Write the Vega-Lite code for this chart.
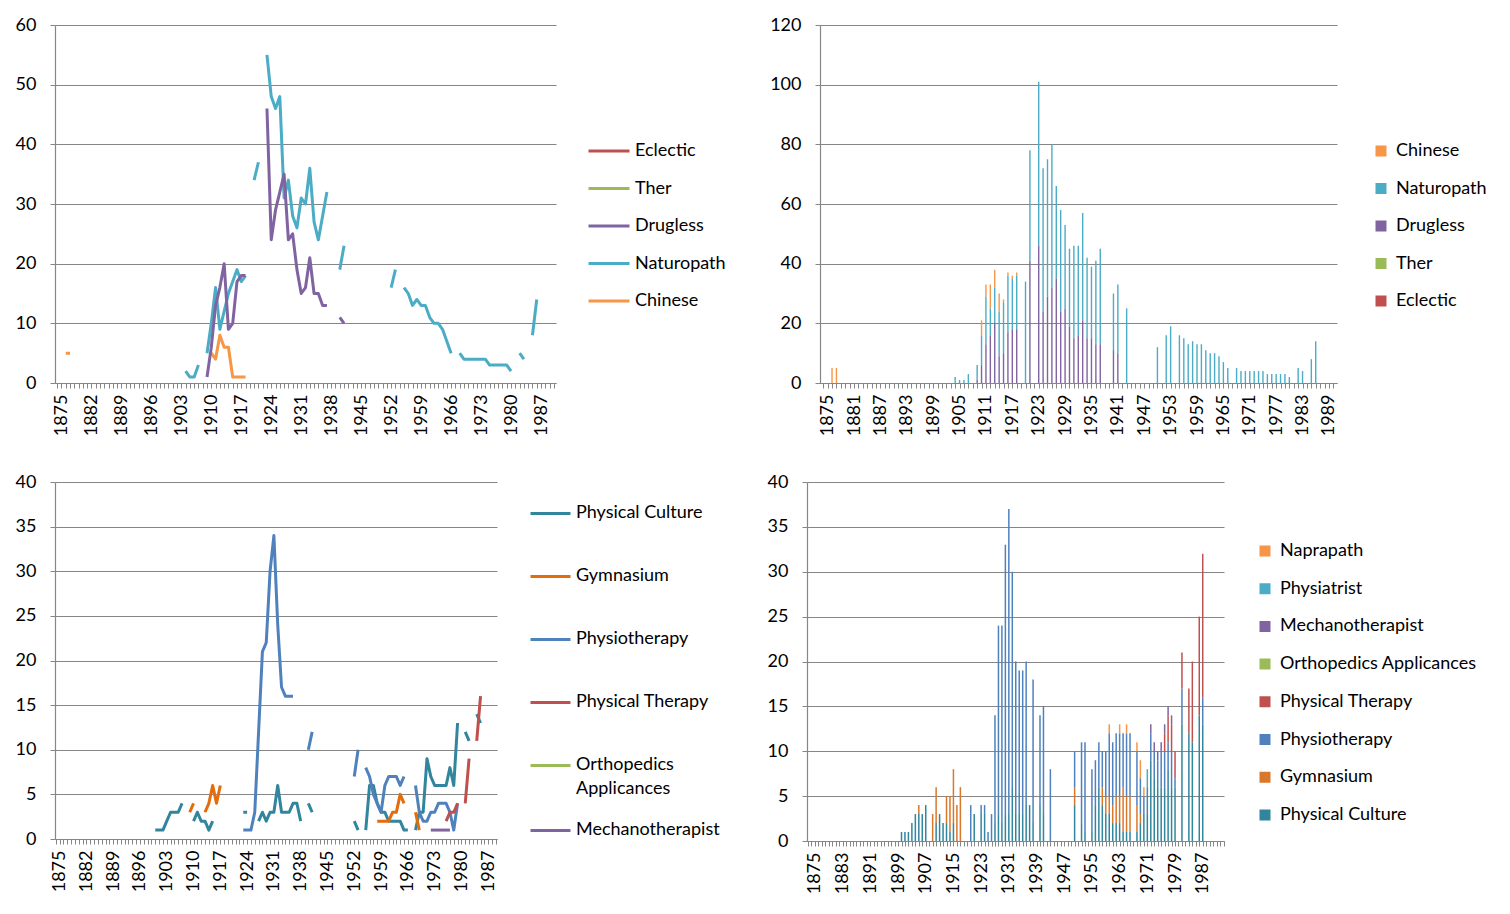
{
  "$schema": "https://vega.github.io/schema/vega-lite/v6.json",
  "background": "white",
  "padding": {"left": 15, "top": 16, "right": 5, "bottom": 5},
  "bounds": "flush",
  "spacing": 457,
  "config": {
    "font": "Lato",
    "view": {"stroke": null},
    "axis": {"labelFont": "Lato", "labelFontSize": 18, "labelColor": "#000000", "domainColor": "#868686", "tickColor": "#868686", "gridColor": "#868686", "gridWidth": 1.2, "domainWidth": 1.2, "tickWidth": 1},
    "legend": {"labelFont": "Lato", "labelFontSize": 18, "labelColor": "#000000", "labelLimit": 400}
  },
  "datasets": {
    "a": [
      {"year":1876,"series":"Chinese","n":5},{"year":1877,"series":"Chinese","n":5},{"year":1878,"series":"Chinese","n":null},
      {"year":1910,"series":"Chinese","n":5},{"year":1911,"series":"Chinese","n":4},{"year":1912,"series":"Chinese","n":8},{"year":1913,"series":"Chinese","n":6},{"year":1914,"series":"Chinese","n":6},{"year":1915,"series":"Chinese","n":1},{"year":1916,"series":"Chinese","n":1},{"year":1917,"series":"Chinese","n":1},{"year":1918,"series":"Chinese","n":1},
      {"year":1904,"series":"Naturopath","n":2},{"year":1905,"series":"Naturopath","n":1},{"year":1906,"series":"Naturopath","n":1},{"year":1907,"series":"Naturopath","n":3},{"year":1908,"series":"Naturopath","n":null},
      {"year":1909,"series":"Naturopath","n":5},{"year":1910,"series":"Naturopath","n":10},{"year":1911,"series":"Naturopath","n":16},{"year":1912,"series":"Naturopath","n":9},{"year":1913,"series":"Naturopath","n":12},{"year":1914,"series":"Naturopath","n":15},{"year":1915,"series":"Naturopath","n":17},{"year":1916,"series":"Naturopath","n":19},{"year":1917,"series":"Naturopath","n":17},{"year":1918,"series":"Naturopath","n":18},{"year":1919,"series":"Naturopath","n":null},
      {"year":1920,"series":"Naturopath","n":34},{"year":1921,"series":"Naturopath","n":37},{"year":1922,"series":"Naturopath","n":null},
      {"year":1923,"series":"Naturopath","n":55},{"year":1924,"series":"Naturopath","n":48},{"year":1925,"series":"Naturopath","n":46},{"year":1926,"series":"Naturopath","n":48},{"year":1927,"series":"Naturopath","n":31},{"year":1928,"series":"Naturopath","n":34},{"year":1929,"series":"Naturopath","n":28},{"year":1930,"series":"Naturopath","n":26},{"year":1931,"series":"Naturopath","n":31},{"year":1932,"series":"Naturopath","n":30},{"year":1933,"series":"Naturopath","n":36},{"year":1934,"series":"Naturopath","n":27},{"year":1935,"series":"Naturopath","n":24},{"year":1936,"series":"Naturopath","n":28},{"year":1937,"series":"Naturopath","n":32},{"year":1938,"series":"Naturopath","n":null},
      {"year":1940,"series":"Naturopath","n":19},{"year":1941,"series":"Naturopath","n":23},{"year":1942,"series":"Naturopath","n":null},{"year":1943,"series":"Naturopath","n":25},{"year":1944,"series":"Naturopath","n":null},
      {"year":1950,"series":"Naturopath","n":12},{"year":1951,"series":"Naturopath","n":null},{"year":1952,"series":"Naturopath","n":16},{"year":1953,"series":"Naturopath","n":19},{"year":1954,"series":"Naturopath","n":null},
      {"year":1955,"series":"Naturopath","n":16},{"year":1956,"series":"Naturopath","n":15},{"year":1957,"series":"Naturopath","n":13},{"year":1958,"series":"Naturopath","n":14},{"year":1959,"series":"Naturopath","n":13},{"year":1960,"series":"Naturopath","n":13},{"year":1961,"series":"Naturopath","n":11},{"year":1962,"series":"Naturopath","n":10},{"year":1963,"series":"Naturopath","n":10},{"year":1964,"series":"Naturopath","n":9},{"year":1965,"series":"Naturopath","n":7},{"year":1966,"series":"Naturopath","n":5},{"year":1967,"series":"Naturopath","n":null},
      {"year":1968,"series":"Naturopath","n":5},{"year":1969,"series":"Naturopath","n":4},{"year":1970,"series":"Naturopath","n":4},{"year":1971,"series":"Naturopath","n":4},{"year":1972,"series":"Naturopath","n":4},{"year":1973,"series":"Naturopath","n":4},{"year":1974,"series":"Naturopath","n":4},{"year":1975,"series":"Naturopath","n":3},{"year":1976,"series":"Naturopath","n":3},{"year":1977,"series":"Naturopath","n":3},{"year":1978,"series":"Naturopath","n":3},{"year":1979,"series":"Naturopath","n":3},{"year":1980,"series":"Naturopath","n":2},{"year":1981,"series":"Naturopath","n":null},
      {"year":1982,"series":"Naturopath","n":5},{"year":1983,"series":"Naturopath","n":4},{"year":1984,"series":"Naturopath","n":null},{"year":1985,"series":"Naturopath","n":8},{"year":1986,"series":"Naturopath","n":14},
      {"year":1909,"series":"Drugless","n":1},{"year":1910,"series":"Drugless","n":6},{"year":1911,"series":"Drugless","n":13},{"year":1912,"series":"Drugless","n":16},{"year":1913,"series":"Drugless","n":20},{"year":1914,"series":"Drugless","n":9},{"year":1915,"series":"Drugless","n":10},{"year":1916,"series":"Drugless","n":17},{"year":1917,"series":"Drugless","n":18},{"year":1918,"series":"Drugless","n":18},{"year":1919,"series":"Drugless","n":null},
      {"year":1921,"series":"Drugless","n":41},{"year":1922,"series":"Drugless","n":null},
      {"year":1923,"series":"Drugless","n":46},{"year":1924,"series":"Drugless","n":24},{"year":1925,"series":"Drugless","n":29},{"year":1926,"series":"Drugless","n":32},{"year":1927,"series":"Drugless","n":35},{"year":1928,"series":"Drugless","n":24},{"year":1929,"series":"Drugless","n":25},{"year":1930,"series":"Drugless","n":19},{"year":1931,"series":"Drugless","n":15},{"year":1932,"series":"Drugless","n":16},{"year":1933,"series":"Drugless","n":21},{"year":1934,"series":"Drugless","n":15},{"year":1935,"series":"Drugless","n":15},{"year":1936,"series":"Drugless","n":13},{"year":1937,"series":"Drugless","n":13},{"year":1938,"series":"Drugless","n":null},
      {"year":1940,"series":"Drugless","n":11},{"year":1941,"series":"Drugless","n":10}
    ],
    "rankTop": [
      {"series":"Eclectic","k":0},{"series":"Ther","k":1},{"series":"Drugless","k":2},{"series":"Naturopath","k":3},{"series":"Chinese","k":4}
    ],
    "rankBottom": [
      {"series":"Physical Culture","k":0},{"series":"Gymnasium","k":1},{"series":"Physiotherapy","k":2},{"series":"Physical Therapy","k":3},{"series":"Orthopedics Applicances","k":4},{"series":"Mechanotherapist","k":5},{"series":"Physiatrist","k":6},{"series":"Naprapath","k":7}
    ],
    "bl": [
      {"year":1900,"series":"Physical Culture","n":1},{"year":1901,"series":"Physical Culture","n":1},{"year":1902,"series":"Physical Culture","n":1},{"year":1903,"series":"Physical Culture","n":2},{"year":1904,"series":"Physical Culture","n":3},{"year":1905,"series":"Physical Culture","n":3},{"year":1906,"series":"Physical Culture","n":3},{"year":1907,"series":"Physical Culture","n":4},{"year":1908,"series":"Physical Culture","n":null},
      {"year":1910,"series":"Physical Culture","n":2},{"year":1911,"series":"Physical Culture","n":3},{"year":1912,"series":"Physical Culture","n":2},{"year":1913,"series":"Physical Culture","n":2},{"year":1914,"series":"Physical Culture","n":1},{"year":1915,"series":"Physical Culture","n":2},{"year":1916,"series":"Physical Culture","n":null},
      {"year":1921,"series":"Physical Culture","n":3},{"year":1922,"series":"Physical Culture","n":null},{"year":1923,"series":"Physical Culture","n":3},{"year":1924,"series":"Physical Culture","n":3},{"year":1925,"series":"Physical Culture","n":null},
      {"year":1927,"series":"Physical Culture","n":2},{"year":1928,"series":"Physical Culture","n":3},{"year":1929,"series":"Physical Culture","n":2},{"year":1930,"series":"Physical Culture","n":3},{"year":1931,"series":"Physical Culture","n":3},{"year":1932,"series":"Physical Culture","n":6},{"year":1933,"series":"Physical Culture","n":3},{"year":1934,"series":"Physical Culture","n":3},{"year":1935,"series":"Physical Culture","n":3},{"year":1936,"series":"Physical Culture","n":4},{"year":1937,"series":"Physical Culture","n":4},{"year":1938,"series":"Physical Culture","n":2},{"year":1939,"series":"Physical Culture","n":null},
      {"year":1940,"series":"Physical Culture","n":4},{"year":1941,"series":"Physical Culture","n":3},{"year":1942,"series":"Physical Culture","n":null},
      {"year":1952,"series":"Physical Culture","n":2},{"year":1953,"series":"Physical Culture","n":1},{"year":1954,"series":"Physical Culture","n":null},
      {"year":1955,"series":"Physical Culture","n":1},{"year":1956,"series":"Physical Culture","n":6},{"year":1957,"series":"Physical Culture","n":6},{"year":1958,"series":"Physical Culture","n":4},{"year":1959,"series":"Physical Culture","n":3},{"year":1960,"series":"Physical Culture","n":3},{"year":1961,"series":"Physical Culture","n":2},{"year":1962,"series":"Physical Culture","n":2},{"year":1963,"series":"Physical Culture","n":2},{"year":1964,"series":"Physical Culture","n":2},{"year":1965,"series":"Physical Culture","n":1},{"year":1966,"series":"Physical Culture","n":1},{"year":1967,"series":"Physical Culture","n":null},
      {"year":1968,"series":"Physical Culture","n":1},{"year":1969,"series":"Physical Culture","n":3},{"year":1970,"series":"Physical Culture","n":3},{"year":1971,"series":"Physical Culture","n":9},{"year":1972,"series":"Physical Culture","n":7},{"year":1973,"series":"Physical Culture","n":6},{"year":1974,"series":"Physical Culture","n":6},{"year":1975,"series":"Physical Culture","n":6},{"year":1976,"series":"Physical Culture","n":6},{"year":1977,"series":"Physical Culture","n":8},{"year":1978,"series":"Physical Culture","n":6},{"year":1979,"series":"Physical Culture","n":13},{"year":1980,"series":"Physical Culture","n":null},
      {"year":1981,"series":"Physical Culture","n":12},{"year":1982,"series":"Physical Culture","n":11},{"year":1983,"series":"Physical Culture","n":null},{"year":1984,"series":"Physical Culture","n":14},{"year":1985,"series":"Physical Culture","n":13},
      {"year":1909,"series":"Gymnasium","n":3},{"year":1910,"series":"Gymnasium","n":4},{"year":1911,"series":"Gymnasium","n":null},
      {"year":1913,"series":"Gymnasium","n":3},{"year":1914,"series":"Gymnasium","n":4},{"year":1915,"series":"Gymnasium","n":6},{"year":1916,"series":"Gymnasium","n":4},{"year":1917,"series":"Gymnasium","n":6},{"year":1918,"series":"Gymnasium","n":null},
      {"year":1958,"series":"Gymnasium","n":2},{"year":1959,"series":"Gymnasium","n":2},{"year":1960,"series":"Gymnasium","n":2},{"year":1961,"series":"Gymnasium","n":2},{"year":1962,"series":"Gymnasium","n":3},{"year":1963,"series":"Gymnasium","n":3},{"year":1964,"series":"Gymnasium","n":5},{"year":1965,"series":"Gymnasium","n":4},{"year":1966,"series":"Gymnasium","n":null},
      {"year":1968,"series":"Gymnasium","n":3},{"year":1969,"series":"Gymnasium","n":1},
      {"year":1920,"series":"Physiotherapy","n":4},{"year":1921,"series":"Physiotherapy","n":null},
      {"year":1923,"series":"Physiotherapy","n":1},{"year":1924,"series":"Physiotherapy","n":1},{"year":1925,"series":"Physiotherapy","n":1},{"year":1926,"series":"Physiotherapy","n":3},{"year":1927,"series":"Physiotherapy","n":12},{"year":1928,"series":"Physiotherapy","n":21},{"year":1929,"series":"Physiotherapy","n":22},{"year":1930,"series":"Physiotherapy","n":30},{"year":1931,"series":"Physiotherapy","n":34},{"year":1932,"series":"Physiotherapy","n":24},{"year":1933,"series":"Physiotherapy","n":17},{"year":1934,"series":"Physiotherapy","n":16},{"year":1935,"series":"Physiotherapy","n":16},{"year":1936,"series":"Physiotherapy","n":16},{"year":1937,"series":"Physiotherapy","n":null},
      {"year":1938,"series":"Physiotherapy","n":16},{"year":1939,"series":"Physiotherapy","n":null},
      {"year":1940,"series":"Physiotherapy","n":10},{"year":1941,"series":"Physiotherapy","n":12},{"year":1942,"series":"Physiotherapy","n":null},{"year":1943,"series":"Physiotherapy","n":8},{"year":1944,"series":"Physiotherapy","n":null},
      {"year":1952,"series":"Physiotherapy","n":7},{"year":1953,"series":"Physiotherapy","n":10},{"year":1954,"series":"Physiotherapy","n":null},
      {"year":1955,"series":"Physiotherapy","n":8},{"year":1956,"series":"Physiotherapy","n":7},{"year":1957,"series":"Physiotherapy","n":5},{"year":1958,"series":"Physiotherapy","n":4},{"year":1959,"series":"Physiotherapy","n":3},{"year":1960,"series":"Physiotherapy","n":6},{"year":1961,"series":"Physiotherapy","n":7},{"year":1962,"series":"Physiotherapy","n":7},{"year":1963,"series":"Physiotherapy","n":7},{"year":1964,"series":"Physiotherapy","n":6},{"year":1965,"series":"Physiotherapy","n":7},{"year":1966,"series":"Physiotherapy","n":null},
      {"year":1968,"series":"Physiotherapy","n":6},{"year":1969,"series":"Physiotherapy","n":3},{"year":1970,"series":"Physiotherapy","n":2},{"year":1971,"series":"Physiotherapy","n":2},{"year":1972,"series":"Physiotherapy","n":3},{"year":1973,"series":"Physiotherapy","n":3},{"year":1974,"series":"Physiotherapy","n":4},{"year":1975,"series":"Physiotherapy","n":4},{"year":1976,"series":"Physiotherapy","n":4},{"year":1977,"series":"Physiotherapy","n":3},{"year":1978,"series":"Physiotherapy","n":1},{"year":1979,"series":"Physiotherapy","n":4},
      {"year":1976,"series":"Physical Therapy","n":2},{"year":1977,"series":"Physical Therapy","n":3},{"year":1978,"series":"Physical Therapy","n":3},{"year":1979,"series":"Physical Therapy","n":4},{"year":1980,"series":"Physical Therapy","n":null},
      {"year":1981,"series":"Physical Therapy","n":4},{"year":1982,"series":"Physical Therapy","n":9},{"year":1983,"series":"Physical Therapy","n":null},{"year":1984,"series":"Physical Therapy","n":11},{"year":1985,"series":"Physical Therapy","n":16},
      {"year":1972,"series":"Mechanotherapist","n":1},{"year":1973,"series":"Mechanotherapist","n":1},{"year":1974,"series":"Mechanotherapist","n":1},{"year":1975,"series":"Mechanotherapist","n":1},{"year":1976,"series":"Mechanotherapist","n":1},{"year":1977,"series":"Mechanotherapist","n":1}
    ],
    "br": [
      {"year":1900,"series":"Physical Culture","n":1},{"year":1901,"series":"Physical Culture","n":1},{"year":1902,"series":"Physical Culture","n":1},{"year":1903,"series":"Physical Culture","n":2},{"year":1904,"series":"Physical Culture","n":3},{"year":1905,"series":"Physical Culture","n":3},{"year":1905,"series":"Gymnasium","n":1},{"year":1906,"series":"Physical Culture","n":3},{"year":1907,"series":"Physical Culture","n":4},
      {"year":1909,"series":"Gymnasium","n":3},{"year":1910,"series":"Gymnasium","n":4},{"year":1910,"series":"Physical Culture","n":2},{"year":1911,"series":"Physical Culture","n":3},{"year":1912,"series":"Physical Culture","n":2},
      {"year":1913,"series":"Gymnasium","n":3},{"year":1913,"series":"Physical Culture","n":2},{"year":1914,"series":"Gymnasium","n":4},{"year":1914,"series":"Physical Culture","n":1},{"year":1915,"series":"Gymnasium","n":6},{"year":1915,"series":"Physical Culture","n":2},{"year":1916,"series":"Gymnasium","n":4},{"year":1917,"series":"Gymnasium","n":6},
      {"year":1920,"series":"Physiotherapy","n":4},{"year":1921,"series":"Physical Culture","n":3},
      {"year":1923,"series":"Physical Culture","n":3},{"year":1923,"series":"Physiotherapy","n":1},{"year":1924,"series":"Physical Culture","n":3},{"year":1924,"series":"Physiotherapy","n":1},{"year":1925,"series":"Physiotherapy","n":1},{"year":1926,"series":"Physiotherapy","n":3},
      {"year":1927,"series":"Physiotherapy","n":12},{"year":1927,"series":"Physical Culture","n":2},{"year":1928,"series":"Physiotherapy","n":21},{"year":1928,"series":"Physical Culture","n":3},{"year":1929,"series":"Physiotherapy","n":22},{"year":1929,"series":"Physical Culture","n":2},{"year":1930,"series":"Physiotherapy","n":30},{"year":1930,"series":"Physical Culture","n":3},
      {"year":1931,"series":"Physiotherapy","n":34},{"year":1931,"series":"Physical Culture","n":3},{"year":1932,"series":"Physiotherapy","n":24},{"year":1932,"series":"Physical Culture","n":6},{"year":1933,"series":"Physiotherapy","n":17},{"year":1933,"series":"Physical Culture","n":3},{"year":1934,"series":"Physiotherapy","n":16},{"year":1934,"series":"Physical Culture","n":3},
      {"year":1935,"series":"Physiotherapy","n":16},{"year":1935,"series":"Physical Culture","n":3},{"year":1936,"series":"Physiotherapy","n":16},{"year":1936,"series":"Physical Culture","n":4},{"year":1937,"series":"Physical Culture","n":4},{"year":1938,"series":"Physiotherapy","n":16},{"year":1938,"series":"Physical Culture","n":2},
      {"year":1940,"series":"Physiotherapy","n":10},{"year":1940,"series":"Physical Culture","n":4},{"year":1941,"series":"Physiotherapy","n":12},{"year":1941,"series":"Physical Culture","n":3},{"year":1943,"series":"Physiotherapy","n":8},
      {"year":1950,"series":"Physical Culture","n":4},{"year":1950,"series":"Gymnasium","n":2},{"year":1950,"series":"Physiotherapy","n":4},
      {"year":1952,"series":"Physical Culture","n":2},{"year":1952,"series":"Physiotherapy","n":9},{"year":1953,"series":"Physical Culture","n":1},{"year":1953,"series":"Physiotherapy","n":10},
      {"year":1955,"series":"Physical Culture","n":1},{"year":1955,"series":"Physiotherapy","n":7},{"year":1956,"series":"Physical Culture","n":4},{"year":1956,"series":"Physiotherapy","n":5},{"year":1957,"series":"Physical Culture","n":6},{"year":1957,"series":"Physiotherapy","n":5},
      {"year":1958,"series":"Physical Culture","n":4},{"year":1958,"series":"Gymnasium","n":2},{"year":1958,"series":"Physiotherapy","n":4},{"year":1959,"series":"Physical Culture","n":3},{"year":1959,"series":"Gymnasium","n":2},{"year":1959,"series":"Physiotherapy","n":5},
      {"year":1960,"series":"Physical Culture","n":3},{"year":1960,"series":"Gymnasium","n":2},{"year":1960,"series":"Physiotherapy","n":7},{"year":1960,"series":"Naprapath","n":1},
      {"year":1961,"series":"Physical Culture","n":2},{"year":1961,"series":"Gymnasium","n":2},{"year":1961,"series":"Physiotherapy","n":7},
      {"year":1962,"series":"Physical Culture","n":2},{"year":1962,"series":"Gymnasium","n":3},{"year":1962,"series":"Physiotherapy","n":7},
      {"year":1963,"series":"Physical Culture","n":2},{"year":1963,"series":"Gymnasium","n":3},{"year":1963,"series":"Physiotherapy","n":7},{"year":1963,"series":"Naprapath","n":1},
      {"year":1964,"series":"Physical Culture","n":1},{"year":1964,"series":"Gymnasium","n":5},{"year":1964,"series":"Physiotherapy","n":6},
      {"year":1965,"series":"Physical Culture","n":1},{"year":1965,"series":"Gymnasium","n":4},{"year":1965,"series":"Physiotherapy","n":7},{"year":1965,"series":"Naprapath","n":1},
      {"year":1966,"series":"Physical Culture","n":1},{"year":1966,"series":"Gymnasium","n":4},{"year":1966,"series":"Physiotherapy","n":7},
      {"year":1968,"series":"Physical Culture","n":1},{"year":1968,"series":"Gymnasium","n":3},{"year":1968,"series":"Physiotherapy","n":6},{"year":1968,"series":"Naprapath","n":1},
      {"year":1969,"series":"Physical Culture","n":2},{"year":1969,"series":"Gymnasium","n":1},{"year":1969,"series":"Physiotherapy","n":4},{"year":1969,"series":"Naprapath","n":2},
      {"year":1970,"series":"Physical Culture","n":3},{"year":1970,"series":"Physiotherapy","n":2},{"year":1970,"series":"Naprapath","n":1},
      {"year":1971,"series":"Physical Culture","n":3},{"year":1971,"series":"Physiotherapy","n":3},{"year":1971,"series":"Physiatrist","n":2},
      {"year":1972,"series":"Physical Culture","n":9},{"year":1972,"series":"Physiotherapy","n":3},{"year":1972,"series":"Mechanotherapist","n":1},
      {"year":1973,"series":"Physical Culture","n":7},{"year":1973,"series":"Physiotherapy","n":3},{"year":1973,"series":"Mechanotherapist","n":1},
      {"year":1974,"series":"Physical Culture","n":6},{"year":1974,"series":"Physiotherapy","n":3},{"year":1974,"series":"Mechanotherapist","n":1},
      {"year":1975,"series":"Physical Culture","n":6},{"year":1975,"series":"Physiotherapy","n":4},{"year":1975,"series":"Mechanotherapist","n":1},
      {"year":1976,"series":"Physical Culture","n":6},{"year":1976,"series":"Physiotherapy","n":4},{"year":1976,"series":"Mechanotherapist","n":1},{"year":1976,"series":"Physical Therapy","n":2},
      {"year":1977,"series":"Physical Culture","n":8},{"year":1977,"series":"Physiotherapy","n":3},{"year":1977,"series":"Mechanotherapist","n":1},{"year":1977,"series":"Physical Therapy","n":3},
      {"year":1978,"series":"Physical Culture","n":6},{"year":1978,"series":"Physiotherapy","n":4},{"year":1978,"series":"Mechanotherapist","n":1},{"year":1978,"series":"Physical Therapy","n":3},
      {"year":1979,"series":"Physical Culture","n":6},{"year":1979,"series":"Physiotherapy","n":1},{"year":1979,"series":"Physical Therapy","n":3},
      {"year":1981,"series":"Physical Culture","n":13},{"year":1981,"series":"Physiotherapy","n":4},{"year":1981,"series":"Physical Therapy","n":4},
      {"year":1983,"series":"Physical Culture","n":12},{"year":1983,"series":"Physical Therapy","n":5},
      {"year":1984,"series":"Physical Culture","n":11},{"year":1984,"series":"Physical Therapy","n":9},
      {"year":1986,"series":"Physical Culture","n":14},{"year":1986,"series":"Physical Therapy","n":11},
      {"year":1987,"series":"Physical Culture","n":13},{"year":1987,"series":"Physiotherapy","n":3},{"year":1987,"series":"Physical Therapy","n":16}
    ]
  },
  "resolve": {"scale": {"x": "independent", "y": "independent", "color": "independent"}, "legend": {"color": "independent"}},
  "vconcat": [
    {
      "bounds": "flush",
      "spacing": 264,
      "resolve": {"scale": {"x": "independent", "y": "independent", "color": "independent"}, "legend": {"color": "independent"}},
      "hconcat": [
        {
          "width": 501,
          "height": 358,
          "data": {"name": "a"},
          "mark": {"type": "line", "strokeWidth": 3, "strokeJoin": "round", "invalid": "break-paths-show-domains"},
          "encoding": {
            "x": {"field": "year", "type": "quantitative",
              "scale": {"domain": [1873.5, 1990.5], "nice": false, "zero": false},
              "axis": {"title": null, "grid": false, "tickCount": 117, "format": "d", "labelAngle": -90, "labelAlign": "right", "labelBaseline": "middle", "labelOverlap": false, "labelBound": false, "labelFlush": false, "labelPadding": 6, "tickSize": 5,
                "labelExpr": "(datum.value - 1875) % 7 === 0 ? datum.label : ''"}},
            "y": {"field": "n", "type": "quantitative",
              "scale": {"domain": [0, 60], "nice": false},
              "axis": {"title": null, "grid": true, "values": [0, 10, 20, 30, 40, 50, 60], "tickSize": 5, "labelPadding": 14}},
            "color": {"field": "series", "type": "nominal",
              "scale": {"domain": ["Eclectic", "Ther", "Drugless", "Naturopath", "Chinese"], "range": ["#C0504D", "#9BBB59", "#8064A2", "#4BACC6", "#F79646"]},
              "legend": {"orient": "none", "legendX": 532, "legendY": 116, "title": null, "symbolType": "stroke", "symbolSize": 1681, "symbolStrokeWidth": 3, "labelOffset": 4, "clipHeight": 20, "rowPadding": 17.5, "padding": 0}}
          }
        },
        {
          "width": 517,
          "height": 358,
          "data": {"name": "a"},
          "transform": [
            {"filter": "isValid(datum.n)"},
            {"lookup": "series", "from": {"data": {"name": "rankTop"}, "key": "series", "fields": ["k"]}}
          ],
          "mark": {"type": "bar", "width": 1.4},
          "encoding": {
            "x": {"field": "year", "type": "quantitative",
              "scale": {"domain": [1874.4, 1989.7], "nice": false, "zero": false},
              "axis": {"title": null, "grid": false, "tickCount": 116, "format": "d", "labelAngle": -90, "labelAlign": "right", "labelBaseline": "middle", "labelOverlap": false, "labelBound": false, "labelFlush": false, "labelPadding": 6, "tickSize": 5,
                "labelExpr": "(datum.value - 1875) % 6 === 0 ? datum.label : ''"}},
            "y": {"field": "n", "type": "quantitative", "stack": "zero",
              "scale": {"domain": [0, 120], "nice": false},
              "axis": {"title": null, "grid": true, "values": [0, 20, 40, 60, 80, 100, 120], "tickSize": 5, "labelPadding": 14}},
            "order": {"field": "k", "type": "quantitative", "sort": "ascending"},
            "color": {"field": "series", "type": "nominal",
              "scale": {"domain": ["Chinese", "Naturopath", "Drugless", "Ther", "Eclectic"], "range": ["#F79646", "#4BACC6", "#8064A2", "#9BBB59", "#C0504D"]},
              "legend": {"orient": "none", "legendX": 552, "legendY": 116, "title": null, "values": ["Chinese", "Naturopath", "Drugless", "Ther", "Eclectic"], "symbolType": "square", "symbolSize": 121, "symbolStrokeWidth": 0, "labelOffset": 6, "clipHeight": 20, "rowPadding": 17.5, "padding": 0}}
          }
        }
      ]
    },
    {
      "bounds": "flush",
      "spacing": 310,
      "resolve": {"scale": {"x": "independent", "y": "independent", "color": "independent"}, "legend": {"color": "independent"}},
      "hconcat": [
        {
          "width": 442,
          "height": 357,
          "data": {"name": "bl"},
          "mark": {"type": "line", "strokeWidth": 3, "strokeJoin": "round", "invalid": "break-paths-show-domains"},
          "encoding": {
            "x": {"field": "year", "type": "quantitative",
              "scale": {"domain": [1873.8, 1989.3], "nice": false, "zero": false},
              "axis": {"title": null, "grid": false, "tickCount": 116, "format": "d", "labelAngle": -90, "labelAlign": "right", "labelBaseline": "middle", "labelOverlap": false, "labelBound": false, "labelFlush": false, "labelPadding": 6, "tickSize": 5,
                "labelExpr": "(datum.value - 1875) % 7 === 0 ? datum.label : ''"}},
            "y": {"field": "n", "type": "quantitative",
              "scale": {"domain": [0, 40], "nice": false},
              "axis": {"title": null, "grid": true, "values": [0, 5, 10, 15, 20, 25, 30, 35, 40], "tickSize": 5, "labelPadding": 14}},
            "color": {"field": "series", "type": "nominal",
              "scale": {"domain": ["Physical Culture", "Gymnasium", "Physiotherapy", "Physical Therapy", "Orthopedics Applicances", "Mechanotherapist"], "range": ["#31859C", "#E46C0A", "#4F81BD", "#C0504D", "#9BBB59", "#8064A2"]},
              "legend": {"orient": "none", "legendX": 474, "legendY": 0, "title": null, "symbolType": "stroke", "symbolSize": 1600, "symbolStrokeWidth": 3, "labelOffset": 4, "clipHeight": 62.8, "rowPadding": 0, "padding": 0,
                "labelExpr": "datum.label === 'Orthopedics Applicances' ? ['Orthopedics', 'Applicances'] : datum.label",
                "encode": {"labels": {"update": {"lineHeight": {"value": 24}}}}}}
          }
        },
        {
          "width": 417,
          "height": 359,
          "data": {"name": "br"},
          "transform": [
            {"lookup": "series", "from": {"data": {"name": "rankBottom"}, "key": "series", "fields": ["k"]}}
          ],
          "mark": {"type": "bar", "width": 1.5},
          "encoding": {
            "x": {"field": "year", "type": "quantitative",
              "scale": {"domain": [1874.15, 1991.7], "nice": false, "zero": false},
              "axis": {"title": null, "grid": false, "tickCount": 118, "format": "d", "labelAngle": -90, "labelAlign": "right", "labelBaseline": "middle", "labelOverlap": false, "labelBound": false, "labelFlush": false, "labelPadding": 6, "tickSize": 5,
                "labelExpr": "(datum.value - 1875) % 8 === 0 ? datum.label : ''"}},
            "y": {"field": "n", "type": "quantitative", "stack": "zero",
              "scale": {"domain": [0, 40], "nice": false},
              "axis": {"title": null, "grid": true, "values": [0, 5, 10, 15, 20, 25, 30, 35, 40], "tickSize": 5, "labelPadding": 14}},
            "order": {"field": "k", "type": "quantitative", "sort": "ascending"},
            "color": {"field": "series", "type": "nominal",
              "scale": {"domain": ["Naprapath", "Physiatrist", "Mechanotherapist", "Orthopedics Applicances", "Physical Therapy", "Physiotherapy", "Gymnasium", "Physical Culture"], "range": ["#F79646", "#4BACC6", "#8064A2", "#9BBB59", "#C0504D", "#4F81BD", "#D9772B", "#31859C"]},
              "legend": {"orient": "none", "legendX": 449, "legendY": 59, "title": null, "values": ["Naprapath", "Physiatrist", "Mechanotherapist", "Orthopedics Applicances", "Physical Therapy", "Physiotherapy", "Gymnasium", "Physical Culture"], "symbolType": "square", "symbolSize": 121, "symbolStrokeWidth": 0, "labelOffset": 6, "clipHeight": 20, "rowPadding": 17.7, "padding": 0}}
          }
        }
      ]
    }
  ]
}
